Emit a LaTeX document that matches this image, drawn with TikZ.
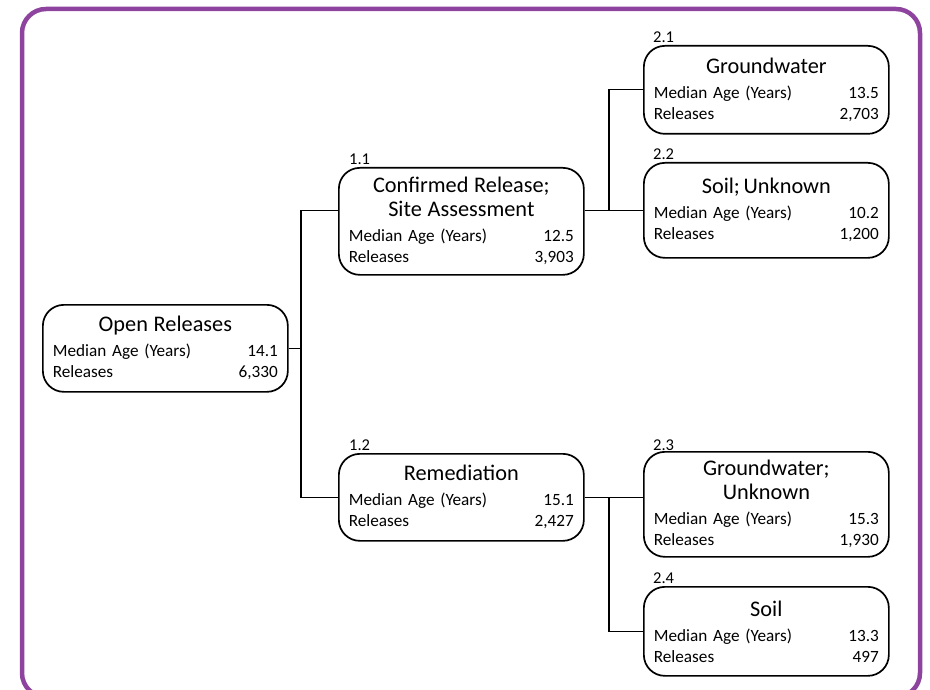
\documentclass[tikz,border=0pt]{standalone}
\usepackage{fontspec}
\setmainfont{Carlito}
\usepackage{xcolor}
\usepackage{tikz}
\definecolor{framepurple}{RGB}{142,68,158}
\newlength\rowwd
\setlength\rowwd{225pt}
\newcommand{\boxtitle}[1]{{\fontsize{22.3}{25}\selectfont #1}\\[4pt]}
\newcommand{\statrow}[2]{\makebox[\rowwd]{#1\hfill #2}}

\begin{document}
\begin{tikzpicture}[x=1pt,y=-1pt,every node/.style={font=\fontsize{17.2}{21}\selectfont},box/.style={draw=black,line width=1.7pt,rounded corners=21pt,anchor=north west,align=center,text width=\rowwd,inner xsep=10pt,inner ysep=3pt},num/.style={font=\fontsize{16.5}{18}\selectfont,anchor=south west,inner sep=1pt},link/.style={draw=black,line width=1.3pt}]
\useasboundingbox (0,0) rectangle (930,690);
\draw[framepurple,line width=4.5pt,rounded corners=24pt] (22,9) rectangle (920,697);

\node[box,minimum height=87pt] (n0) at (42,304) {\boxtitle{Open Releases}\statrow{Median Age (Years)}{14.1}\\\statrow{Releases}{6,330}};
\node[box,minimum height=107pt] (n1) at (338,167) {\boxtitle{Confirmed Release;\\[3pt]Site Assessment}\statrow{Median Age (Years)}{12.5}\\\statrow{Releases}{3,903}};
\node[box,minimum height=87pt] (n2) at (338,453) {\boxtitle{Remediation}\statrow{Median Age (Years)}{15.1}\\\statrow{Releases}{2,427}};

\node[box,minimum height=88pt] (n3) at (643,45) {\boxtitle{Groundwater}\statrow{Median Age (Years)}{13.5}\\\statrow{Releases}{2,703}};
\node[box,minimum height=95pt] (n4) at (643,162) {\boxtitle{Soil;\,Unknown}\statrow{Median Age (Years)}{10.2}\\\statrow{Releases}{1,200}};
\node[box,minimum height=105pt] (n5) at (643,451) {\boxtitle{Groundwater;\\[3pt]Unknown}\statrow{Median Age (Years)}{15.3}\\\statrow{Releases}{1,930}};
\node[box,minimum height=89pt] (n6) at (643,586) {\boxtitle{Soil}\statrow{Median Age (Years)}{13.3}\\\statrow{Releases}{497}};

\node[num] (l1) at ([xshift=10pt,yshift=1pt]n1.north west) {1.1};
\node[num] (l2) at ([xshift=10pt,yshift=1pt]n2.north west) {1.2};
\node[num] (l3) at ([xshift=9pt,yshift=1pt]n3.north west) {2.1};
\node[num] (l4) at ([xshift=9pt,yshift=1pt]n4.north west) {2.2};
\node[num] (l5) at ([xshift=9pt,yshift=-1pt]n5.north west) {2.3};
\node[num] (l6) at ([xshift=9pt,yshift=1pt]n6.north west) {2.4};

\coordinate (j0) at (301,0 |- n0.east);
\coordinate (j1) at (609,0 |- n4.west);
\coordinate (j2) at (609,0 |- n2.east);
\draw[link] (n0.east) -- (j0);
\draw[link] (n1.west |- n4.west) -| (j0) |- (n2.west);
\draw[link] (n1.east |- n4.west) -- (n4.west);
\draw[link] (j1) |- (n3.west);
\draw[link] (n2.east) -- (n5.west |- n2.east);
\draw[link] (j2) |- (n6.west);
\end{tikzpicture}
\end{document}
